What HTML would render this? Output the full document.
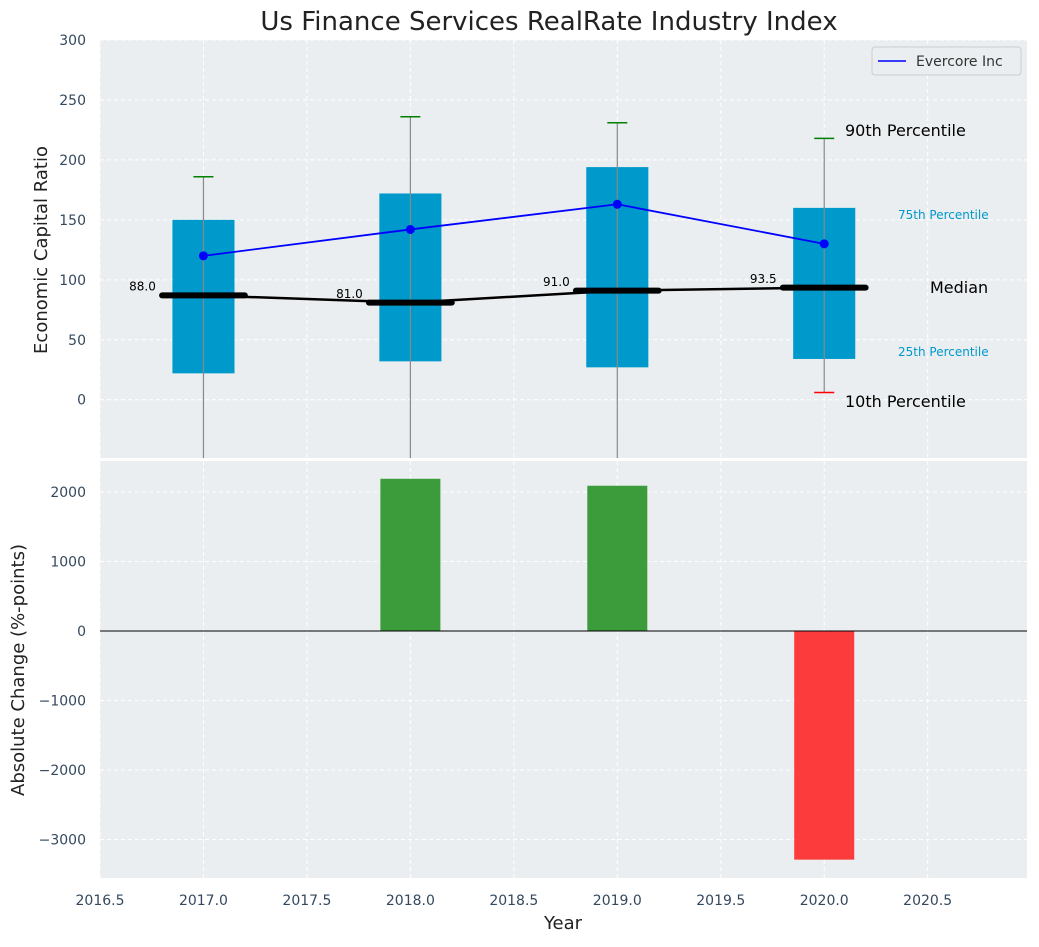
<!DOCTYPE html>
<html><head><meta charset="utf-8"><style>
body{margin:0;background:#fff;font-family:"Liberation Sans","DejaVu Sans",sans-serif}
svg text{font-family:"DejaVu Sans","Liberation Sans",sans-serif}
</style></head><body>
<svg id="c" width="1039" height="942" xmlns="http://www.w3.org/2000/svg"></svg>
<script>
const years=[2017,2018,2019,2020];
const q1=[22,32,27,34];
const q3=[150,172,194,160];
const p90=[186,236,231,218];
const p10=[-60,-60,-60,6];
const medians=[87,81,91,93.5];
const medianLabels=["88.0","81.0","91.0","93.5"];
const evercore=[120,142,163,130];
const changes=[0,2190,2090,-3290];
const topTicks=[0,50,100,150,200,250,300];
const botTicks=[-3000,-2000,-1000,0,1000,2000];
const xTicks=[2016.5,2017.0,2017.5,2018.0,2018.5,2019.0,2019.5,2020.0,2020.5];

const NS="http://www.w3.org/2000/svg";
const svg=document.getElementById('c');
function el(t,a,p){const e=document.createElementNS(NS,t);for(const k in a)e.setAttribute(k,a[k]);(p||svg).appendChild(e);return e;}
const L=100,R=1027,T1=40,B1=458,T2=461,B2=878;
const X=v=>L+(v-2016.5)/(2020.98-2016.5)*(R-L);
const Y1=v=>T1+(300-v)/(300+48.6)*(B1-T1);
const Y2=v=>T2+(2446-v)/(2446+3554)*(B2-T2);

let t=el('text',{x:549,y:30,'text-anchor':'middle','font-size':26,fill:'#222'});t.textContent="Us Finance Services RealRate Industry Index";


let a1=el('rect',{x:L,y:T1,width:R-L,height:B1-T1,fill:'#eaeef0'});

let a2=el('rect',{x:L,y:T2,width:R-L,height:B2-T2,fill:'#eaeef0'});


xTicks.forEach(v=>{
  el('line',{x1:X(v),x2:X(v),y1:T1,y2:B1,stroke:'#fff','stroke-dasharray':'4,3'});
  el('line',{x1:X(v),x2:X(v),y1:T2,y2:B2,stroke:'#fff','stroke-dasharray':'4,3'});
  let tx=el('text',{x:X(v),y:905,'text-anchor':'middle','font-size':14,fill:'#34495e'});tx.textContent=v.toFixed(1);
  
});
topTicks.forEach(v=>{
  el('line',{x1:L,x2:R,y1:Y1(v),y2:Y1(v),stroke:'#fff','stroke-dasharray':'4,3'});
  let tx=el('text',{x:86,y:Y1(v)+5,'text-anchor':'end','font-size':14,fill:'#34495e'});tx.textContent=v;
  
});
botTicks.forEach(v=>{
  el('line',{x1:L,x2:R,y1:Y2(v),y2:Y2(v),stroke:'#fff','stroke-dasharray':'4,3'});
  let tx=el('text',{x:86,y:Y2(v)+5,'text-anchor':'end','font-size':14,fill:'#34495e'});tx.textContent=(v<0?'\u2212'+(-v):v);
  
});

const defs=el('defs',{});const cp=el('clipPath',{id:'cp1'},defs);el('rect',{x:L,y:T1,width:R-L,height:B1-T1},cp);
const g1=el('g',{'clip-path':'url(#cp1)'});
const bw=0.3;
years.forEach((y,i)=>{
  let b=el('rect',{x:X(y-bw/2),y:Y1(q3[i]),width:X(y+bw/2)-X(y-bw/2),height:Y1(q1[i])-Y1(q3[i]),fill:'#0099cc'},g1);
  
  el('line',{x1:X(y),x2:X(y),y1:Y1(p90[i]),y2:Y1(p10[i]),stroke:'#888','stroke-width':1.2},g1);
  el('line',{x1:X(y)-10,x2:X(y)+10,y1:Y1(p90[i]),y2:Y1(p90[i]),stroke:'green','stroke-width':1.5},g1);
  el('line',{x1:X(y)-10,x2:X(y)+10,y1:Y1(p10[i]),y2:Y1(p10[i]),stroke:'red','stroke-width':1.5},g1);
  let m=el('line',{x1:X(y-0.2),x2:X(y+0.2),y1:Y1(medians[i]),y2:Y1(medians[i]),stroke:'#000','stroke-width':6,'stroke-linecap':'round'},g1);
  
  let lt=el('text',{x:X(y-0.23),y:Y1(medians[i]+4),'text-anchor':'end','font-size':12,fill:'#000'},g1);lt.textContent=medianLabels[i];
});
let mp=el('polyline',{points:years.map((y,i)=>X(y)+','+Y1(medians[i])).join(' '),fill:'none',stroke:'#000','stroke-width':2.5},g1);

let ep=el('polyline',{points:years.map((y,i)=>X(y)+','+Y1(evercore[i])).join(' '),fill:'none',stroke:'blue','stroke-width':1.8},g1);

years.forEach((y,i)=>{let c=el('circle',{cx:X(y),cy:Y1(evercore[i]),r:4.5,fill:'blue'},g1);
  });

[["90th Percentile",845,136,16,'#000'],["75th Percentile",898,219,12,'#0099cc'],["Median",930,293,16,'#000'],["25th Percentile",898,356,12,'#0099cc'],["10th Percentile",845,407,16,'#000']].forEach(a=>{
  let tx=el('text',{x:a[1],y:a[2],'font-size':a[3],fill:a[4]});tx.textContent=a[0];
  
});

let lg=el('g',{});
el('rect',{x:872,y:47,width:149,height:28,rx:3,fill:'#eaeef0',stroke:'#ccc'},lg);
el('line',{x1:878,x2:906,y1:61,y2:61,stroke:'blue','stroke-width':1.5},lg);
let lt=el('text',{x:916,y:66,'font-size':14,fill:'#333'},lg);lt.textContent="Evercore Inc";

years.forEach((y,i)=>{
  const v=changes[i];if(v===0)return;
  let b=el('rect',{x:X(y-0.145),y:Math.min(Y2(v),Y2(0)),width:X(y+0.145)-X(y-0.145),height:Math.abs(Y2(v)-Y2(0)),fill:v>0?'#3c9c3c':'#fc3c3c'});
  
});
el('line',{x1:L,x2:R,y1:Y2(0),y2:Y2(0),stroke:'#000','stroke-width':1});

let yt1=el('text',{x:47,y:250,'text-anchor':'middle','font-size':18,fill:'#222',transform:'rotate(-90 47 250)'});yt1.textContent="Economic Capital Ratio";

let yt2=el('text',{x:24,y:670,'text-anchor':'middle','font-size':18,fill:'#222',transform:'rotate(-90 24 670)'});yt2.textContent="Absolute Change (%-points)";

let xt=el('text',{x:563,y:929,'text-anchor':'middle','font-size':18,fill:'#222'});xt.textContent="Year";

</script></body></html>
